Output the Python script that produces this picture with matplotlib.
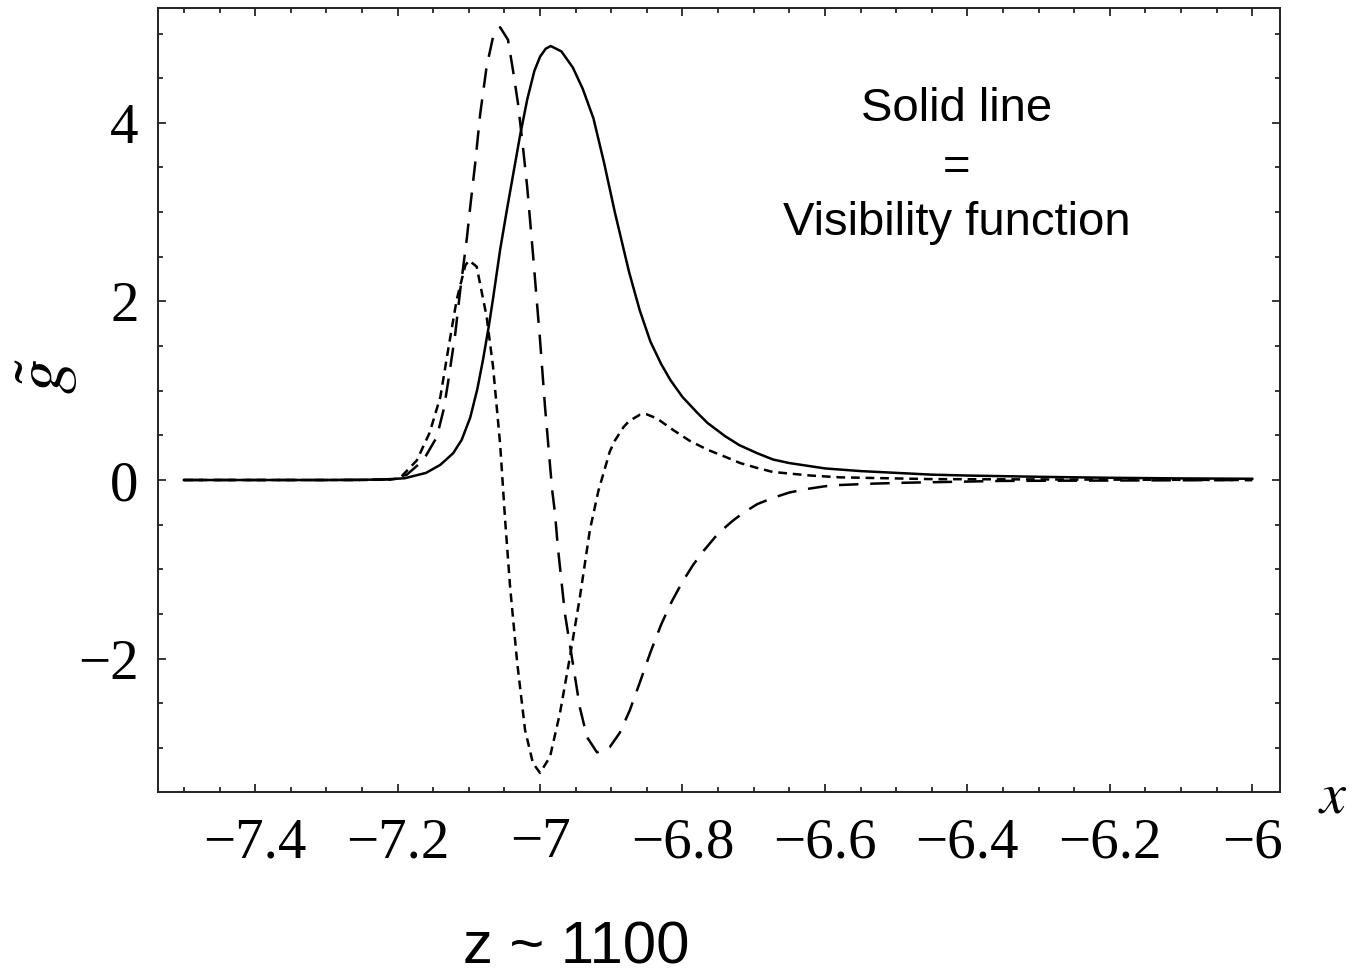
"""
Visibility function and its derivatives around recombination (z ~ 1100)
"""

import matplotlib
import matplotlib.pyplot as plt
from matplotlib.ticker import FuncFormatter, MultipleLocator

matplotlib.rcParams["mathtext.fontset"] = "stix"
matplotlib.rcParams["lines.scale_dashes"] = False

# solid line: visibility function
x_solid = [-7.5, -7.3, -7.22, -7.19, -7.16, -7.14, -7.122, -7.11, -7.098, -7.088,
           -7.08, -7.072, -7.066, -7.056, -7.046, -7.036, -7.028, -7.018, -7.008,
           -7.0, -6.992, -6.985, -6.97, -6.954, -6.94, -6.925, -6.91, -6.895,
           -6.875, -6.86, -6.845, -6.83, -6.817, -6.8, -6.78, -6.765, -6.74,
           -6.72, -6.695, -6.673, -6.65, -6.6, -6.55, -6.5, -6.45, -6.4, -6.3,
           -6.2, -6.1, -6.0]
y_solid = [0.0, 0.0, 0.005, 0.02, 0.08, 0.17, 0.30, 0.45, 0.70, 1.02,
           1.35, 1.72, 2.03, 2.58, 3.05, 3.5, 3.86, 4.26, 4.58,
           4.74, 4.83, 4.86, 4.8, 4.62, 4.38, 4.05, 3.55, 3.0,
           2.33, 1.9, 1.55, 1.3, 1.12, 0.93, 0.76, 0.64, 0.49,
           0.39, 0.3, 0.23, 0.19, 0.13, 0.1, 0.08, 0.06, 0.05, 0.036,
           0.025, 0.018, 0.014]

# long dashes: first derivative
x_long = [-7.5, -7.25, -7.21, -7.187, -7.164, -7.145, -7.135, -7.129, -7.119,
          -7.112, -7.103, -7.098, -7.091, -7.084, -7.075, -7.066, -7.056, -7.045,
          -7.038, -7.031, -7.024, -7.018, -7.014, -7.01, -7.005, -7.0, -6.993,
          -6.983, -6.979, -6.975, -6.969, -6.965, -6.958, -6.951, -6.944, -6.934,
          -6.92, -6.902, -6.888, -6.874, -6.86, -6.845, -6.83, -6.815, -6.8,
          -6.785, -6.77, -6.75, -6.73, -6.715, -6.695, -6.673, -6.65, -6.625,
          -6.6, -6.579, -6.53, -6.485, -6.35, -6.0]
y_long = [0.0, 0.0, 0.01, 0.06, 0.22, 0.48, 0.8, 1.1, 1.64,
          2.13, 2.69, 3.06, 3.55, 4.1, 4.63, 4.96, 5.07, 4.93,
          4.59, 4.22, 3.73, 3.28, 2.91, 2.54, 2.05, 1.57, 0.82,
          -0.11, -0.37, -0.75, -1.2, -1.5, -1.85, -2.2, -2.55, -2.88,
          -3.05, -2.99, -2.83, -2.58, -2.27, -1.93, -1.62, -1.36, -1.14,
          -0.95, -0.79, -0.6, -0.46, -0.37, -0.27, -0.2, -0.14, -0.1,
          -0.07, -0.056, -0.04, -0.03, -0.01, 0.0]

# short dashes: second derivative
x_short = [-7.5, -7.25, -7.21, -7.197, -7.173, -7.155, -7.14, -7.129, -7.117,
           -7.105, -7.1, -7.089, -7.075, -7.066, -7.056, -7.049, -7.042, -7.032,
           -7.021, -7.01, -7.0, -6.986, -6.972, -6.958, -6.944, -6.93, -6.918,
           -6.902, -6.895, -6.883, -6.875, -6.86, -6.85, -6.836, -6.813, -6.79,
           -6.765, -6.74, -6.719, -6.695, -6.673, -6.62, -6.579, -6.45, -6.0]
y_short = [0.0, 0.0, 0.005, 0.02, 0.22, 0.53, 0.93, 1.46, 2.02,
           2.4, 2.46, 2.39, 1.83, 1.27, 0.40, -0.45, -1.2, -2.05,
           -2.8, -3.17, -3.28, -3.1, -2.61, -1.98, -1.31, -0.56, -0.12,
           0.32, 0.44, 0.59, 0.66, 0.73, 0.735, 0.69, 0.56, 0.44,
           0.34, 0.26, 0.19, 0.135, 0.09, 0.05, 0.03, 0.01, 0.0]

note_lines = ["Solid line", "=", "Visibility function"]
redshift_text = "z ~ 1100"


def number_label(value, _position):
    text = f"{value:g}"
    return text.replace("-", "\u2212")


figure = plt.figure(figsize=(13.64, 9.73), dpi=100)
axis = figure.add_axes([0.1158, 0.186, 0.8226, 0.8057])

axis.plot(x_solid, y_solid, "-", color="black", linewidth=1.8)
axis.plot(x_long, y_long, color="black", linewidth=1.8, dashes=(14.0, 8.5))
axis.plot(x_short, y_short, color="black", linewidth=1.8, dashes=(6.3, 4.2))

axis.set_xlim(-7.5365, -5.961)
axis.set_ylim(-3.494, 5.285)

axis.xaxis.set_major_locator(MultipleLocator(0.2))
axis.xaxis.set_minor_locator(MultipleLocator(0.05))
axis.yaxis.set_major_locator(MultipleLocator(2))
axis.yaxis.set_minor_locator(MultipleLocator(0.5))
axis.xaxis.set_major_formatter(FuncFormatter(number_label))
axis.yaxis.set_major_formatter(FuncFormatter(number_label))

axis.tick_params(which="both", direction="in", top=True, right=True,
                 color="black", width=1.1)
axis.tick_params(which="major", length=6.0)
axis.tick_params(which="minor", length=3.3)
axis.tick_params(axis="x", which="major", pad=18)
axis.tick_params(axis="y", which="major", pad=14)
for label in axis.get_xticklabels() + axis.get_yticklabels():
    label.set_fontfamily("Liberation Serif")
    label.set_fontsize(41)

for spine in axis.spines.values():
    spine.set_linewidth(1.4)
    spine.set_color("#222222")

# axis labels, placed like the original Mathematica frame labels
figure.text(1333 / 1364, 1 - 796 / 973, r"$x$", fontsize=42,
            ha="center", va="center")
figure.text(46 / 1364, 1 - 376 / 973, r"$\tilde{g}$", fontsize=50,
            rotation=90, ha="center", va="center")

note_baselines = [121, 180, 235]
for line, baseline in zip(note_lines, note_baselines):
    figure.text(957 / 1364, 1 - baseline / 973, line, fontsize=34,
                family="Liberation Sans", ha="center", va="baseline")

figure.text(576 / 1364, 1 - 963 / 973, redshift_text, fontsize=43,
            family="Liberation Sans", ha="center", va="baseline")

figure.savefig("out.png", dpi=100)
plt.close(figure)
